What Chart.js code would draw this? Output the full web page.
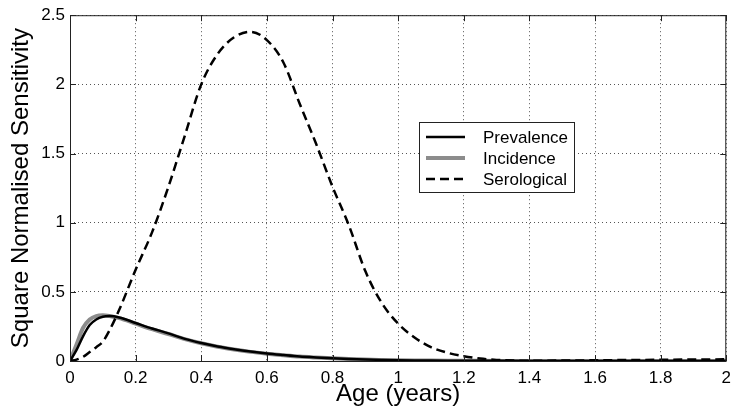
<!DOCTYPE html>
<html>
<head>
<meta charset="utf-8">
<script src="https://cdn.jsdelivr.net/npm/chart.js@4/dist/chart.umd.min.js"></script>
<style>
html,body{margin:0;padding:0;background:#fff;}
#wrap{width:738px;height:410px;position:relative;}
</style>
</head>
<body>
<div id="wrap"><canvas id="c" width="738" height="410"></canvas></div>
<script>
const ages = [0,0.02,0.04,0.06,0.08,0.1,0.12,0.15,0.2,0.25,0.3,0.35,0.4,0.45,0.5,0.55,0.6,0.65,0.7,0.75,0.8,0.85,0.9,0.95,1.0,1.05,1.1,1.15,1.2,1.25,1.3,1.4,1.5,1.6,1.7,1.8,1.9,2.0];
const prevalence = [0,0.08,0.18,0.26,0.30,0.32,0.325,0.315,0.275,0.235,0.2,0.16,0.13,0.105,0.085,0.068,0.054,0.043,0.033,0.026,0.02,0.015,0.011,0.008,0.006,0.0045,0.0035,0.0027,0.002,0.0015,0.0011,0.0006,0.0003,0.0002,0.0001,0,0,0];
const incidence = [0,0.12,0.24,0.30,0.325,0.33,0.325,0.31,0.27,0.23,0.195,0.158,0.128,0.103,0.083,0.066,0.053,0.042,0.032,0.025,0.019,0.014,0.01,0.0075,0.0055,0.004,0.003,0.0022,0.0016,0.0012,0.0009,0.0005,0.0003,0.0002,0.0001,0,0,0];
const serological = [0,0.01,0.03,0.065,0.1,0.14,0.22,0.37,0.66,0.93,1.26,1.63,2.0,2.22,2.34,2.38,2.32,2.16,1.86,1.57,1.26,0.98,0.65,0.42,0.27,0.17,0.10,0.06,0.035,0.018,0.008,0.002,0.003,0.005,0.007,0.009,0.011,0.012];
const xTickLabels = ['0','0.2','0.4','0.6','0.8','1','1.2','1.4','1.6','1.8','2'];
const yTickLabels = ['0','0.5','1','1.5','2','2.5'];
const seriesNames = ['Prevalence','Incidence','Serological'];

const pts = arr => ages.map((a,i)=>({x:a,y:arr[i]}));
const FONT = '"Liberation Sans", Arial, sans-serif';

const frameAndLegend = {
  id:'frameAndLegend',
  afterDatasetsDraw(chart){
    const {ctx, chartArea:a, scales} = chart;
    ctx.save();
    ctx.strokeStyle='#222'; ctx.lineWidth=1;
    ctx.strokeRect(a.left+0.5,a.top+0.5,a.right-a.left-1,a.bottom-a.top);
    ctx.beginPath();
    scales.x.ticks.forEach(t=>{
      const px=Math.round(scales.x.getPixelForValue(t.value))+0.5;
      ctx.moveTo(px,a.bottom); ctx.lineTo(px,a.bottom-6);
      ctx.moveTo(px,a.top); ctx.lineTo(px,a.top+6);
    });
    scales.y.ticks.forEach(t=>{
      const py=Math.round(scales.y.getPixelForValue(t.value))+0.5;
      ctx.moveTo(a.left,py); ctx.lineTo(a.left+6,py);
      ctx.moveTo(a.right,py); ctx.lineTo(a.right-6,py);
    });
    ctx.stroke();
    const lx=419, ly=122, lw=155, lh=70;
    ctx.fillStyle='#fff';
    ctx.fillRect(lx,ly,lw,lh);
    ctx.strokeStyle='#222'; ctx.lineWidth=1;
    ctx.strokeRect(lx+0.5,ly+0.5,lw,lh);
    ctx.font='17px '+FONT;
    ctx.textBaseline='middle';
    chart.data.datasets.forEach((ds,i)=>{
      const y=ly+15+i*21;
      ctx.beginPath();
      ctx.strokeStyle=ds.borderColor;
      ctx.lineWidth=ds.borderWidth;
      ctx.setLineDash(ds.borderDash||[]);
      ctx.moveTo(lx+7,y); ctx.lineTo(lx+46,y);
      ctx.stroke();
      ctx.setLineDash([]);
      ctx.fillStyle='#000';
      ctx.fillText(ds.label,lx+64,y+1);
    });
    ctx.restore();
  }
};

new Chart(document.getElementById('c'),{
  type:'line',
  data:{datasets:[
    {label:seriesNames[0],data:pts(prevalence),borderColor:'#000',borderWidth:2.5,pointRadius:0,cubicInterpolationMode:'monotone',order:2},
    {label:seriesNames[1],data:pts(incidence),borderColor:'#8c8c8c',borderWidth:4,pointRadius:0,cubicInterpolationMode:'monotone',order:3},
    {label:seriesNames[2],data:pts(serological),borderColor:'#000',borderWidth:2.5,borderDash:[9,5],pointRadius:0,cubicInterpolationMode:'monotone',order:1}
  ]},
  options:{
    responsive:false,animation:false,
    layout:{padding:{top:15,right:7,left:0,bottom:0}},
    plugins:{legend:{display:false},tooltip:{enabled:false}},
    scales:{
      x:{type:'linear',min:0,max:2,
        afterBuildTicks(s){s.ticks=xTickLabels.map(v=>({value:parseFloat(v)}));},
        afterFit(s){s.height=49;},
        ticks:{color:'#000',font:{family:FONT,size:17},padding:7,maxRotation:0,autoSkip:false,
          callback:(v,i)=>xTickLabels[i]},
        grid:{color:'#555',lineWidth:1,tickLength:0,drawTicks:false},
        border:{display:false,dash:[1,3]},
        title:{display:true,text:'Age (years)',color:'#000',font:{family:FONT,size:24},padding:{top:0,bottom:1}}
      },
      y:{type:'linear',min:0,max:2.5,
        afterBuildTicks(s){s.ticks=yTickLabels.map(v=>({value:parseFloat(v)}));},
        afterFit(s){s.width=70;},
        ticks:{color:'#000',font:{family:FONT,size:17},padding:5,autoSkip:false,
          callback:(v,i)=>yTickLabels[i]},
        grid:{color:'#555',lineWidth:1,tickLength:0,drawTicks:false},
        border:{display:false,dash:[1,3]},
        title:{display:true,text:'Square Normalised Sensitivity',color:'#000',font:{family:FONT,size:24},padding:{top:7,bottom:0}}
      }
    }
  },
  plugins:[frameAndLegend]
});
</script>
</body>
</html>
